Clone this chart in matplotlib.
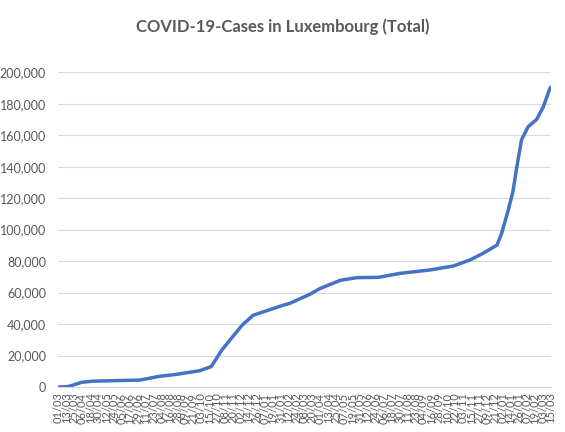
import matplotlib
matplotlib.use("Agg")
import matplotlib.pyplot as plt
import matplotlib.dates as mdates
from matplotlib.ticker import FuncFormatter
import pandas as pd

# cumulative cases
dates = ["2020-03-01", "2020-03-11", "2020-03-18", "2020-04-05", "2020-04-22",
         "2020-05-23", "2020-07-02", "2020-08-01", "2020-08-26", "2020-10-01",
         "2020-10-18", "2020-11-03", "2020-12-03", "2020-12-20", "2021-01-10",
         "2021-02-04", "2021-02-14", "2021-03-16", "2021-03-31", "2021-05-01",
         "2021-05-26", "2021-06-28", "2021-07-30", "2021-09-14", "2021-10-19",
         "2021-11-13", "2021-12-03", "2021-12-24", "2021-12-31", "2022-01-10",
         "2022-01-17", "2022-01-23", "2022-01-30", "2022-02-09", "2022-02-22",
         "2022-03-04", "2022-03-14", "2022-03-15"]
cases = [0, 100, 500, 3000, 3700,
         4000, 4400, 6800, 8000, 10400,
         13000, 23500, 39000, 45500, 48500,
         52000, 53200, 58900, 62500, 67800,
         69500, 69700, 72200, 74400, 76900,
         80700, 85000, 90200, 97700, 112500,
         124100, 140000, 157000, 165400, 170100,
         178100, 189800, 190500]

title = "COVID-19-Cases in Luxembourg (Total)"
grey = "#595959"

x = pd.to_datetime(dates)
ticks = pd.date_range("2020-03-01", "2022-03-15", freq="12D")

fig = plt.figure(figsize=(5.65, 4.32), dpi=100)
ax = fig.add_axes([0.1035, 0.1042, 0.871, 0.7284])

ax.plot(x, cases, color="#4472C4", linewidth=2.5, solid_capstyle="round",
        solid_joinstyle="round")

ax.set_xlim(ticks[0], ticks[-1])
ax.set_ylim(0, 200000)
ax.set_yticks(range(0, 200001, 20000))
ax.yaxis.set_major_formatter(FuncFormatter(lambda v, p: f"{int(v):,}"))
ax.set_xticks(ticks)
ax.xaxis.set_major_formatter(mdates.DateFormatter("%d/%m"))

ax.grid(axis="y", color="#D9D9D9", linewidth=0.8)
ax.set_axisbelow(True)
for s in ["top", "right", "left"]:
    ax.spines[s].set_visible(False)
ax.spines["bottom"].set_color("#D9D9D9")
ax.spines["bottom"].set_linewidth(0.8)
ax.tick_params(axis="both", length=0, colors=grey)
ax.tick_params(axis="y", pad=9, labelsize=9)
ax.tick_params(axis="x", pad=4, labelsize=8, labelrotation=90)
for lab in ax.get_xticklabels() + ax.get_yticklabels():
    lab.set_family("Lato")

fig.text(0.5, 0.937, title, ha="center", va="center", fontsize=12,
         fontweight="bold", color=grey, family="Lato")

fig.savefig("out.png", dpi=100)
